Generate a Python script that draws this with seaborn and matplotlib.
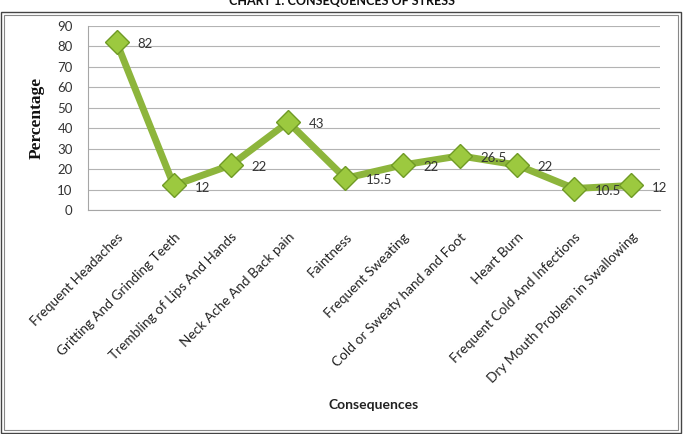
import matplotlib
matplotlib.use("Agg")
import matplotlib.pyplot as plt
import seaborn as sns
import pandas as pd
from matplotlib.patches import Rectangle

# Chart 1: consequences of stress
consequences = [
    "Frequent Headaches",
    "Gritting And Grinding Teeth",
    "Trembling of Lips And Hands",
    "Neck Ache And Back pain",
    "Faintness",
    "Frequent Sweating",
    "Cold or Sweaty hand and Foot",
    "Heart Burn",
    "Frequent Cold And Infections",
    "Dry Mouth Problem in Swallowing",
]
percentage = [82, 12, 22, 43, 15.5, 22, 26.5, 22, 10.5, 12]
y_ticks = [0, 10, 20, 30, 40, 50, 60, 70, 80, 90]

df = pd.DataFrame({"Consequences": consequences, "Percentage": percentage})

sns.set_style("white")
plt.rcParams["font.family"] = ["Lato", "DejaVu Sans"]

W, H = 684, 434
fig = plt.figure(figsize=(6.84, 4.34), dpi=100)
ax = fig.add_axes([88 / W, 1 - 210 / H, 572 / W, 184 / H])

sns.lineplot(data=df, x="Consequences", y="Percentage", ax=ax, sort=False,
             color="#8db53c", linewidth=5, marker="D", markersize=12,
             markerfacecolor="#9cc93f", markeredgecolor="#6f9a25",
             markeredgewidth=1.0)

for i, v in enumerate(percentage):
    ax.annotate(f"{v:g}", (i, v), xytext=(15, -1.5), textcoords="offset points",
                ha="left", va="center", fontsize=9.5, color="#333333")

ax.set_xlim(-0.5, len(consequences) - 0.5)
ax.set_ylim(0, 90)
ax.set_yticks(y_ticks)
ax.yaxis.grid(True, color="#b3b3b3", linewidth=0.8)
ax.set_axisbelow(True)
for s in ["top", "right"]:
    ax.spines[s].set_visible(False)
for s in ["left", "bottom"]:
    ax.spines[s].set_color("#a6a6a6")
    ax.spines[s].set_linewidth(0.8)

ax.tick_params(axis="y", labelsize=9.5, colors="#333333", length=0, pad=11)
ax.tick_params(axis="x", length=0, pad=15)
ax.set_xticks(range(len(consequences)))
ax.set_xticklabels(consequences, rotation=45, ha="right", va="top",
                   rotation_mode="anchor", fontsize=9.8, color="#222222")

ax.set_xlabel("Consequences", fontsize=10, fontweight="bold", color="#222222")
ax.xaxis.set_label_coords(0.5, -1.027)
ax.set_ylabel("Percentage", fontsize=12.5, fontweight="bold",
              family="Liberation Serif", color="#111111")
ax.yaxis.set_label_coords(-0.075, 0.5)

# title, clipped at the top as in the scan
fig.text(0.5, 1 - 5 / H, "CHART 1: CONSEQUENCES OF STRESS", ha="center",
         va="baseline", fontsize=9, fontweight="bold", color="#111111")

# double frame
fig.patches.append(Rectangle((1 / W, 1 / H), 680 / W, 421 / H,
                             transform=fig.transFigure, fill=False,
                             edgecolor="#444444", linewidth=1.0))
fig.patches.append(Rectangle((4 / W, 4 / H), 674 / W, 415 / H,
                             transform=fig.transFigure, fill=False,
                             edgecolor="#888888", linewidth=0.8))

fig.savefig("out.png", dpi=100)
